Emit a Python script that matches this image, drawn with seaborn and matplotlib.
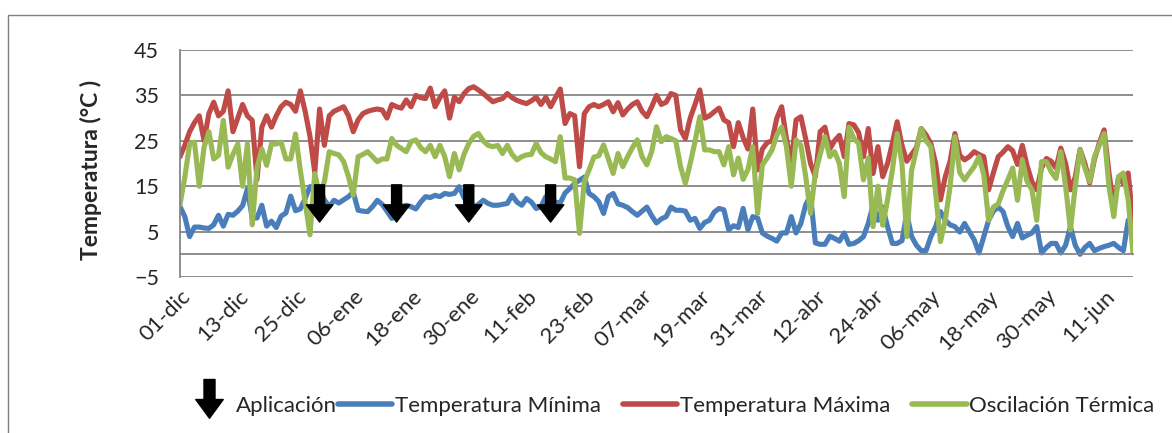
import numpy as np
import pandas as pd
import seaborn as sns
import matplotlib.pyplot as plt
from matplotlib.path import Path
from matplotlib.lines import Line2D
from matplotlib.patches import Rectangle

sns.set_theme(style="white")
plt.rcParams['font.family'] = ['Lato', 'DejaVu Sans']

# daily values, 01-dic to 17-jun
t_max = [21.5, 24, 27, 29, 30.5, 25, 31, 33.5, 30.5, 31.5, 36, 27, 30, 33, 30.5, 29.5, 16.5, 28, 30.5, 28,
         30.5, 32.5, 33.5, 33, 31.5, 36, 31.5, 26, 18, 32, 24, 30.5, 31.5, 32, 32.5, 30.5, 27, 29.6, 31, 31.5,
         31.8, 32, 31.8, 30, 33, 32.5, 32.2, 34, 32.5, 35, 34.5, 34.3, 36.6, 32.5, 34.5, 36, 30, 34.6, 33.6, 35.4,
         36.5, 36.9, 36.2, 35.4, 34.5, 33.6, 34, 34.3, 35.4, 34.5, 33.9, 33.5, 33.2, 33.8, 34.6, 33, 34.6, 32.5, 34.5, 36.4,
         28.8, 31, 30.5, 19.3, 31, 32.5, 33, 32.5, 33, 33.6, 31.4, 33.4, 30.7, 32, 33, 33.6, 31.5, 30.3, 32.5, 35,
         33, 33.5, 35.4, 35, 27.4, 25.5, 30, 33, 36.2, 30, 30.5, 31.4, 32.2, 29.6, 29, 23.7, 29, 25.7, 23.2, 32,
         18.6, 23.2, 24.6, 25, 30, 32.5, 25.4, 20.1, 29.6, 30.3, 25.4, 20, 17.1, 27, 28, 23.2, 25, 26.2, 21.5, 28.8,
         28.5, 26.8, 21.5, 27.7, 17.8, 23.7, 17.1, 20, 24.4, 29.2, 24, 20.5, 22, 23.5, 27.7, 26.3, 24.4, 20, 12, 17.1,
         20.5, 26.6, 21.8, 20.8, 21.5, 22.6, 22, 21.5, 14.2, 18, 21.5, 22.5, 23.7, 22.8, 19.8, 24, 19.5, 16, 14.2, 19,
         21.1, 20.5, 19, 23.4, 20, 14.2, 17, 23.1, 20, 15.7, 21, 24.5, 27.4, 18, 10.5, 17, 15.6, 17.9, 7]

t_min = [10.5, 8.3, 3.9, 6, 6, 5.8, 5.7, 6.5, 8.6, 6.2, 8.8, 8.6, 9.5, 10.7, 14.4, 8, 8, 10.8, 6.2, 7.3,
         5.9, 8.4, 9.1, 12.8, 9.6, 10, 12.3, 14.9, 14.9, 14.2, 12, 10.5, 11.9, 11.3, 12, 12.7, 13.7, 9.7, 9.5, 9.4,
         10.5, 11.9, 11, 9.5, 7.9, 8.5, 10.5, 10.8, 10.5, 10, 11.5, 12.7, 12.5, 13, 12.7, 13.4, 13.2, 13.4, 14.9, 12.5,
         11.1, 10.4, 11, 11.9, 11.2, 10.8, 10.8, 11, 11.2, 13, 11.5, 10.8, 12.3, 11.5, 10.1, 10.5, 12.7, 12, 11.5, 11.3,
         13.5, 14.5, 15.6, 16.3, 17, 13.4, 12.7, 11.6, 9, 12.7, 13.4, 11.1, 10.8, 10.3, 9.4, 8.6, 9.5, 10.4, 8.5, 6.9,
         7.8, 8.3, 10.4, 9.7, 9.7, 9.5, 7.5, 7.9, 5.7, 7, 7.5, 9.3, 10.1, 9.8, 5.4, 6.3, 5.9, 10.1, 5.4, 8.3,
         8, 4.7, 4, 3.5, 2.9, 4.7, 4.7, 8.3, 4.7, 6.8, 10.9, 13, 2.5, 2.2, 2.2, 4, 3.5, 2.9, 4.7, 2.2,
         2.4, 3, 3.9, 6.8, 10.9, 7.5, 10.4, 6.1, 2.4, 2.4, 3, 9, 3.9, 2, 0.8, 0.8, 3.9, 6.1, 9.4, 7.5,
         6.5, 6.1, 4.9, 6.8, 5, 3.2, 0.3, 3.9, 7.5, 9.5, 10.4, 9.4, 6.1, 3.9, 6.8, 3.6, 4.2, 4.7, 6.1, 0.3,
         1.5, 2.4, 2.4, 0.3, 2, 6.1, 2, 0, 1.5, 2.4, 0.8, 1.3, 1.7, 2, 2.4, 1.5, 0.8, 7.5, 7.5]

t_osc = [11, 17, 24.3, 24.7, 15, 23.6, 27, 21, 21.8, 29.5, 19.2, 22, 24.3, 15, 24.3, 6.5, 19, 23.2, 19.6, 24.3,
         24.3, 24.7, 21, 21, 26.5, 18.5, 11.5, 4.3, 17.8, 13, 16, 22.6, 22.2, 21.9, 20.4, 17.1, 13, 21.5, 22, 22.6,
         21.5, 20.4, 21, 21, 25.5, 24, 23.3, 22.6, 24.8, 25.2, 23.5, 22.6, 24, 21.5, 24, 21.5, 17.1, 22.2, 18.6, 22,
         24.4, 26, 26.6, 25, 24, 23.7, 24, 22.2, 24, 22, 20.8, 21.5, 21.9, 22, 24.4, 22.4, 21.5, 21, 20.4, 25.9,
         16.8, 16.8, 16.4, 4.6, 16, 18.6, 21.4, 21.7, 24.1, 21, 17.8, 22.2, 19.3, 21.5, 23.5, 25.2, 21.5, 19.7, 22.6, 28.1,
         24.8, 25.9, 25.5, 25, 19.3, 15.6, 20, 24.8, 30.3, 23, 23, 22.6, 22.6, 19.7, 23.7, 17.5, 21.2, 16.5, 18.7, 23.7,
         9, 19.7, 21.2, 23, 26.3, 28, 23.7, 15, 25.2, 24, 17.1, 9, 17.9, 22, 25.9, 21.5, 22.6, 20, 12.7, 28,
         25.5, 24.4, 16.4, 21.2, 6.1, 15, 6.4, 12, 18.5, 26.6, 20, 3.9, 18.5, 23, 27.7, 25, 23.7, 13.4, 2.8, 7.5,
         15, 25.9, 18, 16.4, 17.9, 19.3, 21.5, 17.5, 7.5, 10.4, 11.1, 14, 16.4, 19, 11.9, 20.8, 16, 14.2, 7.5, 20.4,
         20.4, 18.2, 16.7, 22.6, 15, 5.4, 15, 23, 19, 16, 21.5, 24, 26.6, 15, 8.3, 17.1, 17.9, 12, 0.3]

tick_labels = ["01-dic", "13-dic", "25-dic", "06-ene", "18-ene", "30-ene", "11-feb", "23-feb", "07-mar",
               "19-mar", "31-mar", "12-abr", "24-abr", "06-may", "18-may", "30-may", "11-jun"]
aplicacion_dias = [29, 45, 60, 77]

series = ["Temperatura Mínima", "Temperatura Máxima", "Oscilación Térmica"]
colores = ["#4A7EBB", "#BE4B48", "#98B954"]

dias = np.arange(len(t_max))
df = pd.DataFrame({"dia": dias, series[0]: t_min, series[1]: t_max, series[2]: t_osc})
largo = df.melt(id_vars="dia", var_name="serie", value_name="temp")

fig = plt.figure(figsize=(11.72, 4.33), dpi=100)
ax = fig.add_axes([180 / 1172, (433 - 277) / 433, (1133 - 180) / 1172, 227 / 433])

sns.lineplot(data=largo, x="dia", y="temp", hue="serie", hue_order=series, palette=colores,
             linewidth=3.7, legend=False, ax=ax, solid_capstyle="round", solid_joinstyle="round")

for d in aplicacion_dias:
    ax.annotate("", xy=(d, 7.1), xytext=(d, 15.3),
                arrowprops=dict(arrowstyle="simple,head_width=0.95,head_length=0.62,tail_width=0.36",
                                mutation_scale=20, color="black", shrinkA=0, shrinkB=0))

gris = "#868686"
ax.set_xlim(0, len(t_max) - 1)
ax.set_ylim(-5, 45)
ax.set_yticks(range(-5, 46, 10))
ax.set_xticks(range(0, 12 * len(tick_labels), 12))
ax.set_xticklabels(tick_labels)
ax.grid(axis="y", color=gris, linewidth=1.3)
ax.grid(axis="x", visible=False)
for s in ["top", "right"]:
    ax.spines[s].set_visible(False)
ax.spines["left"].set_color(gris)
ax.spines["left"].set_linewidth(1.3)
ax.spines["bottom"].set_color(gris)
ax.spines["bottom"].set_linewidth(1.3)
ax.spines["bottom"].set_position(("data", 0))
ax.tick_params(axis="x", direction="out", length=5, width=1.3, color=gris, pad=18, labelsize=16,
               labelrotation=45)
ax.tick_params(axis="y", direction="out", length=6, width=1.3, color=gris, pad=9, labelsize=15.5)
plt.setp(ax.get_xticklabels(), ha="right", rotation_mode="anchor")
ax.set_xlabel("")
ax.set_ylabel("Temperatura (°C )", fontsize=16.5, fontweight="bold")
ax.yaxis.set_label_coords(-0.082, 0.47)

# down arrow marker for the legend, drawn a bit above its centre
flecha = Path([(-0.22, 1.0), (0.22, 1.0), (0.22, 0.2), (0.55, 0.2), (0.0, -0.55),
               (-0.55, 0.2), (-0.22, 0.2), (-0.22, 1.0)],
              [Path.MOVETO] + [Path.LINETO] * 6 + [Path.CLOSEPOLY])
h_flecha = [Line2D([], [], linestyle="none", marker=flecha, markersize=36, color="black")]
fig.legend(h_flecha, ["Aplicación"], loc="center right", bbox_to_anchor=(337 / 1172, 0.063),
           frameon=False, fontsize=16, handlelength=1.4, handletextpad=0.5,
           borderpad=0, borderaxespad=0)
h_lineas = [Line2D([], [], color=c, linewidth=4) for c in colores]
fig.legend(h_lineas, series, loc="center left", bbox_to_anchor=(338 / 1172, 0.063),
           ncol=3, frameon=False, fontsize=16, handlelength=2.45, handletextpad=0.1,
           columnspacing=1.0, borderpad=0, borderaxespad=0)

fig.patches.append(Rectangle((8 / 1172, -0.02), 1.2, (433 - 15) / 433 + 0.02,
                             transform=fig.transFigure, fill=False, edgecolor="#7f7f7f", linewidth=1))

fig.savefig("out.png", dpi=100)
